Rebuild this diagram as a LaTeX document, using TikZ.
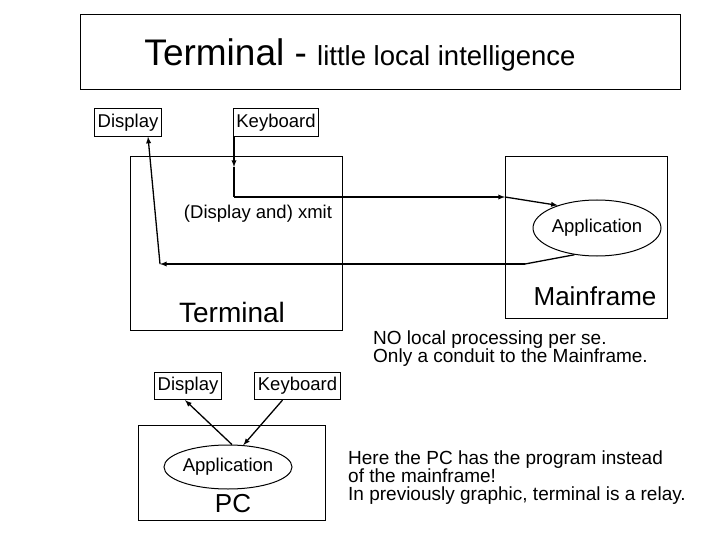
\documentclass[tikz,border=0pt]{standalone}
\usepackage{fontspec}
\setmainfont{Liberation Sans}
\usetikzlibrary{shapes.geometric}
\begin{document}
\begin{tikzpicture}[x=1pt,y=-1pt,
  box/.style={draw,line width=1pt,inner sep=0pt},
  lbl/.style={draw,line width=1pt,inner xsep=3pt,inner ysep=5pt,font=\fontsize{18.5}{20}\selectfont},
  app/.style={draw,ellipse,line width=1pt,font=\fontsize{18.5}{20}\selectfont,inner sep=0pt},
  arr/.style={line width=1.3pt,-latex},
  ln/.style={line width=1.3pt},
  note/.style={font=\fontsize{19}{18}\selectfont,align=left,anchor=north west,inner sep=0pt}]
\useasboundingbox (0,0) rectangle (720,540);
% top frame
\node[box,minimum width=600pt,minimum height=75pt] (frame) at (380,52.5) {};
\node (title) at (360,55) {\fontsize{37}{38}\selectfont Terminal - \fontsize{27.5}{29}\selectfont little local intelligence};
\node[lbl] (disp1) at (128,122.5) {Display};
\node[lbl] (key1) at (276,122.5) {Keyboard};
\node[box,minimum width=212pt,minimum height=173pt] (term) at (236,243.5) {};
\node[font=\fontsize{18.5}{20}\selectfont] (xmit) at (258,214) {(Display and) xmit};
\node[font=\fontsize{28}{30}\selectfont] (termlbl) at (232,312) {Terminal};
\node[box,minimum width=162pt,minimum height=161pt] (main) at (586,237.5) {};
\node[app,minimum width=98pt,minimum height=56pt] (app1) at (597,228) {Application};
\node[font=\fontsize{26}{28}\selectfont] (mainlbl) at (595,296) {Mainframe};
\coordinate (k1) at (234,167);
\coordinate (k2) at (234,197);
\coordinate (m1) at (505,197);
\coordinate (r1) at (525,264);
\coordinate (r2) at (160,264);
\draw[arr] (key1.south -| k1) -- (k1);
\draw[ln] (k1) -- (k2);
\draw[arr] (k2) -- (m1);
\draw[arr] (m1) -- (app1.150);
\draw[ln] (app1.230) -- (r1);
\draw[arr] (r1) -- (r2);
\draw[arr] (r2) -- ([xshift=20pt]disp1.south);
\node[note] (n1) at (373,331) {NO local processing per se.\\Only a conduit to the Mainframe.};
% PC part
\node[lbl] (disp2) at (188,386) {Display};
\node[lbl] (key2) at (297.5,386) {Keyboard};
\node[box,minimum width=187pt,minimum height=95pt] (pc) at (231.5,472.5) {};
\node[app,minimum width=114pt,minimum height=44pt] (app2) at (228,467) {Application};
\node[font=\fontsize{26}{28}\selectfont] (pclbl) at (233,504) {PC};
\draw[arr] (app2.80) -- ([xshift=-3pt]disp2.south);
\draw[arr] ([xshift=-15pt]key2.south) -- (app2.55);
\node[note] (n2) at (348,451) {Here the PC has the program instead\\of the mainframe!\\In previously graphic, terminal is a relay.};
\end{tikzpicture}
\end{document}
